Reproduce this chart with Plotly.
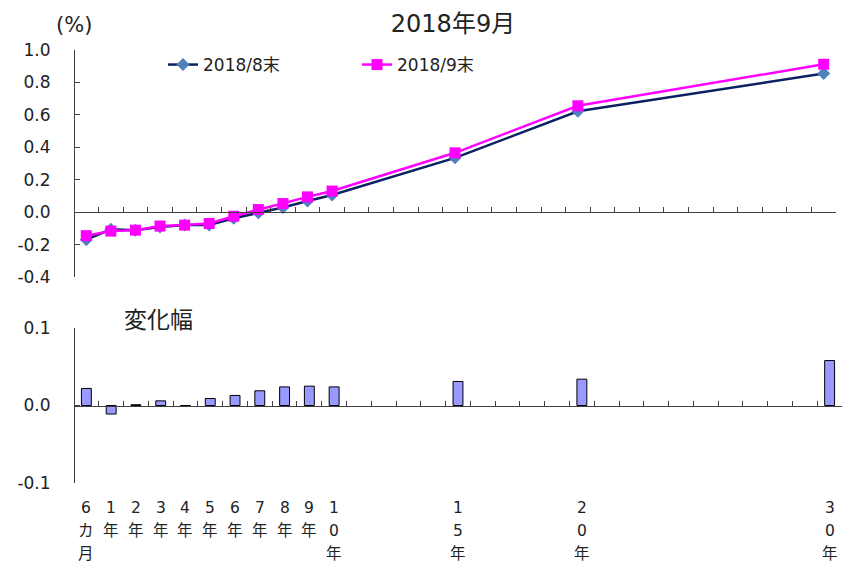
import plotly.graph_objects as go

# ---- data ----
tenor_labels = ["6カ月", "1年", "2年", "3年", "4年", "5年", "6年", "7年", "8年", "9年", "10年",
                "", "", "", "", "15年", "", "", "", "", "20年",
                "", "", "", "", "", "", "", "", "", "30年"]
tenor_pos = [0, 1, 2, 3, 4, 5, 6, 7, 8, 9, 10, 15, 20, 30]
yield_aug = [-0.170, -0.106, -0.112, -0.092, -0.079, -0.079, -0.038, -0.003, 0.029, 0.069, 0.106, 0.335, 0.622, 0.855]
yield_sep = [-0.145, -0.117, -0.111, -0.086, -0.080, -0.070, -0.025, 0.016, 0.053, 0.094, 0.130, 0.366, 0.656, 0.912]
change = [0.022, -0.011, 0.001, 0.006, -0.001, 0.009, 0.013, 0.019, 0.024, 0.025, 0.024, 0.031, 0.034, 0.058]

top_ticks = [-0.4, -0.2, 0.0, 0.2, 0.4, 0.6, 0.8, 1.0]
top_ticktext = ["-0.4", "-0.2", "0.0", "0.2", "0.4", "0.6", "0.8", "1.0"]
bot_ticks = [-0.1, 0.0, 0.1]
bot_ticktext = ["-0.1", "0.0", "0.1"]

title_text = "2018年9月"
unit_text = "(%)"
sub_text = "変化幅"
name_aug = "2018/8末"
name_sep = "2018/9末"

FONT = "DejaVu Sans, Verdana, Noto Sans CJK JP"

W, H = 843, 563
ML, MR, MT, MB = 74, 1, 50, 80
PW = W - ML - MR
PH = H - MT - MB


def px_x(p):
    return (p - ML) / PW


def px_y(p):
    return (H - MB - p) / PH


top_dom = [px_y(277), 1.0]
bot_dom = [0.0, px_y(328)]
top_xdom = [0.0, px_x(836)]
top_rng = [-0.4, 1.0]
bot_rng = [-0.1, 0.1]
n = len(tenor_labels)
xr = [-0.5, n - 0.5]
boundaries = [k + 0.5 for k in range(n)]


def zero_pos(dom, rng):
    return dom[0] + (0 - rng[0]) / (rng[1] - rng[0]) * (dom[1] - dom[0])


fig = go.Figure()
fig.add_trace(go.Scatter(x=tenor_pos, y=yield_aug, name=name_aug, mode="lines+markers",
                         line=dict(color="#0B2161", width=2.5),
                         marker=dict(symbol="diamond", size=10, color="#4F81BD"),
                         xaxis="x", yaxis="y"))
fig.add_trace(go.Scatter(x=tenor_pos, y=yield_sep, name=name_sep, mode="lines+markers",
                         line=dict(color="#FF00FF", width=2.5),
                         marker=dict(symbol="square", size=11, color="#FF00FF"),
                         xaxis="x", yaxis="y"))
fig.add_trace(go.Bar(x=tenor_pos, y=change, width=0.4, showlegend=False,
                     marker=dict(color="#9999FF", line=dict(color="#000000", width=1)),
                     xaxis="x2", yaxis="y2"))

axis_common = dict(range=xr, showgrid=False, zeroline=False, showline=True,
                   linecolor="#404040", linewidth=1, tickvals=boundaries, ticks="inside",
                   ticklen=5, tickcolor="#404040", showticklabels=False, anchor="free")

ann = []
for i, lab in enumerate(tenor_labels):
    for r, ch in enumerate(lab):
        ann.append(dict(x=i, xref="x2", y=0, yref="paper", yanchor="middle", xanchor="center",
                        yshift=-25 - 23 * r, text=ch, showarrow=False,
                        font=dict(size=15.5, color="#222222", family=FONT)))
ann.append(dict(x=px_x(74), xref="paper", y=px_y(25), yref="paper", text=unit_text, showarrow=False,
                xanchor="center", yanchor="middle", font=dict(size=21, color="#222222", family=FONT)))
ann.append(dict(x=px_x(158), xref="paper", y=px_y(320), yref="paper", text=sub_text,
                showarrow=False, xanchor="center", yanchor="middle",
                font=dict(size=23, color="#222222", family=FONT)))

yaxis_common = dict(showgrid=False, zeroline=False, showline=True, linecolor="#404040",
                    ticks="inside", ticklen=5, tickcolor="#404040", ticklabelstandoff=20,
                    anchor="free", position=0, tickfont=dict(size=17))

fig.update_layout(
    width=W, height=H,
    margin=dict(l=ML, r=MR, t=MT, b=MB),
    paper_bgcolor="white", plot_bgcolor="white",
    font=dict(family=FONT, size=16, color="#222222"),
    title=dict(text=title_text, x=px_x(453), xref="paper", xanchor="center",
               y=1 - 24 / H, yanchor="middle", font=dict(size=24, color="#222222", family=FONT)),
    xaxis=dict(domain=top_xdom, position=zero_pos(top_dom, top_rng), **axis_common),
    yaxis=dict(domain=top_dom, range=top_rng, tickvals=top_ticks, ticktext=top_ticktext, **yaxis_common),
    xaxis2=dict(domain=[0, 1], position=zero_pos(bot_dom, bot_rng), **axis_common),
    yaxis2=dict(domain=bot_dom, range=bot_rng, tickvals=bot_ticks, ticktext=bot_ticktext, **yaxis_common),
    legend=dict(orientation="h", x=px_x(163), y=px_y(65), xanchor="left", yanchor="middle",
                entrywidth=149, entrywidthmode="pixels", font=dict(size=17),
                bgcolor="rgba(0,0,0,0)"),
    annotations=ann,
    showlegend=True,
)

fig.write_html("out.html")
